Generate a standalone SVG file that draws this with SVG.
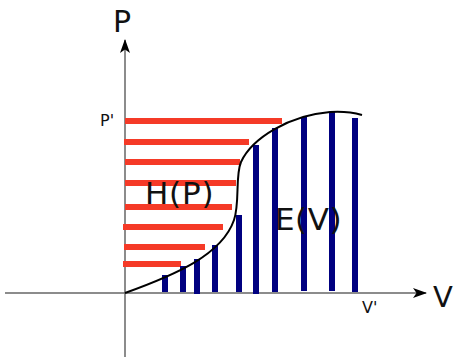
<svg xmlns="http://www.w3.org/2000/svg" width="455" height="357" viewBox="0 0 455 357">
<style>
.ax{stroke:#666;stroke-width:1.5;fill:none}
.red{stroke:#f53a27;stroke-width:6;fill:none}
.blue{stroke:#000080;stroke-width:6;fill:none}
.t{font-family:"DejaVu Sans",sans-serif;fill:#111}
</style>
<defs>
<marker id="ah" markerWidth="14" markerHeight="10" viewBox="0 0 14 10" refX="13" refY="5" orient="auto" markerUnits="userSpaceOnUse">
<path d="M0,0 L14,5 L0,10 L3.5,5 Z" fill="#000"/>
</marker>
</defs>
<g id="connectors">
<line class="ax" x1="125" y1="357" x2="125" y2="40" marker-end="url(#ah)"/>
<line class="ax" x1="5" y1="293" x2="426" y2="293" marker-end="url(#ah)"/>
</g>
<g id="h-bars">
<line class="red" x1="125" y1="121" x2="282" y2="121"/>
<line class="red" x1="124" y1="142" x2="249" y2="142"/>
<line class="red" x1="125" y1="162" x2="240" y2="162"/>
<line class="red" x1="125" y1="183" x2="236" y2="183"/>
<line class="red" x1="125" y1="207" x2="232" y2="207"/>
<line class="red" x1="123" y1="227" x2="223" y2="227"/>
<line class="red" x1="124" y1="247" x2="205" y2="247"/>
<line class="red" x1="123" y1="264" x2="181" y2="264"/>
</g>
<g id="v-bars">
<line class="blue" x1="165" y1="275" x2="165" y2="292"/>
<line class="blue" x1="183" y1="266" x2="183" y2="292"/>
<line class="blue" x1="197" y1="259" x2="197" y2="294"/>
<line class="blue" x1="215" y1="245" x2="215" y2="292"/>
<line class="blue" x1="239" y1="215" x2="239" y2="292"/>
<line class="blue" x1="256" y1="145" x2="256" y2="294"/>
<line class="blue" x1="275" y1="128" x2="275" y2="292"/>
<line class="blue" x1="304" y1="117" x2="304" y2="291"/>
<line class="blue" x1="332" y1="112" x2="332" y2="291"/>
<line class="blue" x1="355" y1="118" x2="355" y2="292"/>
</g>
<g id="curve">
<path d="M125,293 C175,275 222,255 234,220 C240,203 235,176 241,162 C252,138 290,115 330,112 C345,111 355,113 362,115" fill="none" stroke="#000" stroke-width="2"/>
</g>
<g id="labels">
<text class="t" x="113" y="32" font-size="30">P</text>
<text class="t" x="433" y="307" font-size="29">V</text>
<text class="t" x="100" y="126" font-size="16">P'</text>
<text class="t" x="362" y="313" font-size="16">V'</text>
<text class="t" x="145" y="204" font-size="31" letter-spacing="0.8">H(P)</text>
<text class="t" x="275" y="230" font-size="31" letter-spacing="0.5">E(V)</text>
</g>
</svg>
